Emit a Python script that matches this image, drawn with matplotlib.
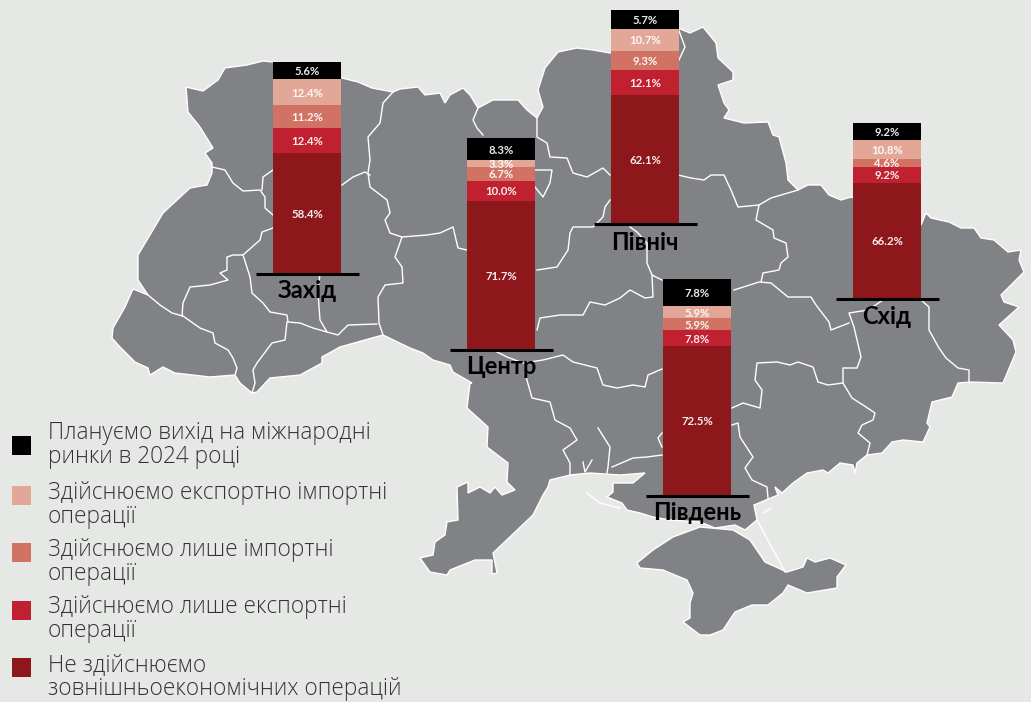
import matplotlib
matplotlib.use("Agg")
import matplotlib.pyplot as plt
from matplotlib.patches import Polygon, Rectangle

# ---------- data ----------
regions = ["Захід", "Центр", "Північ", "Південь", "Схід"]
no_trade = [58.4, 71.7, 62.1, 72.5, 66.2]
export_only = [12.4, 10.0, 12.1, 7.8, 9.2]
import_only = [11.2, 6.7, 9.3, 5.9, 4.6]
export_import = [12.4, 3.3, 10.7, 5.9, 10.8]
planned = [5.6, 8.3, 5.7, 7.8, 9.2]
legend_labels = [
    "Плануємо вихід на міжнародні\nринки в 2024 році",
    "Здійснюємо експортно імпортні\nоперації",
    "Здійснюємо лише імпортні\nоперації",
    "Здійснюємо лише експортні\nоперації",
    "Не здійснюємо\nзовнішньоекономічних операцій",
]

# ---------- layout / style ----------
BG = "#E6E8E6"; MAP = "#808285"
COL = {"no": "#8E171B", "exp": "#C02030", "imp": "#D17264", "both": "#E2A797", "plan": "#000000"}
bar_x = [307, 501, 645, 697, 887]
bar_base = [273, 349, 223, 495, 298]
bar_scale = [2.05, 2.06, 2.06, 2.05, 1.74]
black_pad = [6, 5, 7, 11, 1]
label_y = [291, 367, 243, 513, 316]

# decorative base map, traced in image pixels
outline = [(186,87),(203,91),(218,80),(225,68),(247,65),(263,61),(273,62),(342,78),(358,82),(372,88),(393,92),(400,89),(418,87),(425,95),(440,93),(445,103),(450,95),(463,88),(470,95),(478,108),(493,100),(518,100),(527,110),(537,118),(543,107),(538,90),(545,68),(558,52),(577,48),(593,50),(610,53),(640,35),(678,28),(690,33),(703,27),(716,43),(718,58),(733,72),(733,80),(718,85),(724,103),(729,110),(724,118),(744,123),(768,122),(773,135),(779,137),(786,163),(788,180),(798,190),(808,185),(821,185),(829,195),(841,200),(851,197),(880,205),(921,225),(926,213),(931,218),(949,222),(961,228),(974,228),(981,238),(994,240),(1008,252),(1021,250),(1019,260),(1024,272),(1001,295),(1004,302),(1019,307),(999,325),(1013,340),(1016,352),(1003,383),(970,382),(958,383),(952,397),(932,402),(927,423),(930,427),(923,442),(903,440),(892,442),(882,453),(867,455),(857,463),(855,473),(853,465),(840,463),(828,473),(823,470),(807,473),(793,483),(782,493),(775,487),(778,495),(754,505),(757,520),(745,530),(735,525),(715,528),(700,522),(670,520),(653,517),(640,513),(627,510),(622,503),(607,497),(613,492),(613,483),(633,483),(645,473),(620,475),(590,473),(570,475),(550,480),(548,487),(543,495),(533,515),(493,553),(497,573),(492,574),(492,560),(475,560),(450,570),(447,575),(430,572),(420,558),(433,555),(435,542),(445,535),(447,522),(458,520),(457,487),(468,482),(468,493),(480,487),(490,493),(495,487),(502,495),(515,490),(507,482),(508,463),(487,447),(488,427),(467,408),(470,383),(472,383),(453,372),(450,365),(433,360),(423,353),(410,348),(383,335),(372,338),(340,347),(322,357),(322,363),(300,375),(270,378),(257,392),(252,393),(240,383),(235,375),(210,377),(175,373),(163,367),(150,375),(148,368),(135,362),(120,347),(112,338),(113,328),(125,307),(133,289),(148,295),(138,280),(138,255),(163,213),(190,188),(207,185),(212,173),(212,163),(205,153),(213,148),(200,127),(188,112)]
crimea = [(637,563),(653,550),(673,537),(700,527),(733,530),(750,540),(765,562),(787,572),(803,567),(807,558),(815,562),(830,558),(846,565),(837,577),(837,588),(807,593),(788,585),(783,593),(768,605),(752,605),(735,612),(723,630),(710,635),(700,635),(683,622),(690,618),(690,603),(693,593),(687,580),(663,570),(640,568)]
borders = [
 [(393,92),(383,103),(380,123),(368,137),(370,160),(368,173),(370,187),(387,200),(390,213),(385,220),(390,233),(402,237),(427,235),(440,233),(453,227),(458,248),(467,250)],
 [(212,167),(225,170),(233,183),(243,191),(260,190),(265,197),(265,208),(273,215)],
 [(262,190),(263,177),(273,170)],
 [(342,185),(353,177),(365,172),(370,175)],
 [(273,228),(262,232),(260,240),(243,255),(233,255),(227,257),(227,270),(220,273),(228,280),(210,285),(190,287),(183,303),(182,316)],
 [(243,255),(250,277),(252,293),(263,303),(270,312),(287,315),(288,322),(300,323),(313,328),(327,332),(338,335),(348,325),(377,324)],
 [(148,295),(160,305),(172,313),(183,316),(200,328),(213,333),(215,343),(228,350),(233,358),(237,368),(235,375)],
 [(287,322),(285,340),(272,343),(257,363),(253,370),(255,383),(252,393)],
 [(320,273),(318,293),(320,320),(327,332)],
 [(402,237),(395,257),(402,267),(403,283),(385,285),(378,297),(379,323),(383,335)],
 [(478,108),(473,120),(477,128),(483,135)],
 [(535,170),(552,170),(550,183),(543,197),(535,187)],
 [(537,118),(537,137),(547,143),(550,157),(567,158),(573,173),(587,177),(603,168),(610,175)],
 [(678,175),(691,178),(704,180),(711,175),(724,175),(731,190),(738,207),(759,205),(771,198),(798,190)],
 [(678,28),(685,47),(678,62)],
 [(610,200),(605,207),(603,217),(593,227),(573,227),(570,233),(568,250),(557,267),(537,270)],
 [(630,227),(637,232),(647,243),(647,263),(652,275),(662,280)],
 [(652,275),(653,297),(645,298),(630,290),(620,298),(605,305),(590,302),(583,315),(560,315),(540,318),(537,330)],
 [(497,352),(507,357),(523,363),(543,360),(563,355),(573,362),(597,368),(603,385),(617,388),(633,385),(645,387),(648,375),(662,369)],
 [(525,373),(532,398),(550,402),(555,420),(570,428),(577,440),(563,450),(570,463),(570,475)],
 [(598,428),(610,447),(608,467),(607,473)],
 [(612,467),(633,458),(647,457),(662,455)],
 [(662,447),(658,438),(662,433)],
 [(583,462),(585,472),(592,460)],
 [(732,408),(743,403),(760,408),(762,390),(755,380),(757,363),(777,362),(790,365),(798,362),(813,367),(818,382),(828,385),(843,383),(852,398),(863,405),(875,413),(873,420),(862,425),(858,433),(870,443),(867,455)],
 [(732,425),(738,423),(740,437),(753,457),(745,468),(752,480),(767,487),(768,498)],
 [(843,383),(843,368),(857,368),(861,357),(854,327),(849,313),(868,310),(883,300)],
 [(849,323),(831,330),(829,322),(816,305),(811,297),(788,297),(771,283),(759,282),(734,290)],
 [(759,205),(756,220),(773,230),(774,238),(786,243),(788,257),(781,263),(779,270),(763,273),(761,282)],
 [(921,300),(929,307),(929,330),(939,348),(946,358),(958,368),(969,370),(969,383)],
 [(587,493),(600,503),(620,508)],
 [(757,520),(785,572)],
 [(763,513),(771,508)],
]

fig = plt.figure(figsize=(10.31, 7.02), dpi=100, facecolor=BG)
ax = fig.add_axes([0, 0, 1, 1])
ax.set_xlim(0, 1031); ax.set_ylim(702, 0); ax.axis("off")

for poly in (outline, crimea):
    ax.add_patch(Polygon(poly, closed=True, fc=MAP, ec="white", lw=1.0, zorder=1))
for b in borders:
    xs, ys = zip(*b)
    ax.plot(xs, ys, color="white", lw=1.0, zorder=2, solid_joinstyle="round")

series = [(no_trade, COL["no"]), (export_only, COL["exp"]), (import_only, COL["imp"]),
          (export_import, COL["both"]), (planned, COL["plan"])]
TEXT_FONT = ["Lato", "Noto Sans", "DejaVu Sans"]
for i, reg in enumerate(regions):
    cur = bar_base[i]
    for vals, c in series:
        h = vals[i] * bar_scale[i] + (black_pad[i] if vals is planned else 0)
        ax.bar(bar_x[i], -h, bottom=cur, width=68, color=c, lw=0, zorder=3)
        ax.text(bar_x[i], cur - h / 2, f"{vals[i]:.1f}%", color="white", ha="center", va="center_baseline",
                fontsize=8.2, family=TEXT_FONT, fontweight="bold", zorder=4, alpha=.92)
        cur -= h
    ax.plot([bar_x[i] - 51.5, bar_x[i] + 51.5], [bar_base[i] + 1] * 2, color="black", lw=2.2, zorder=5,
            solid_capstyle="butt")
    ax.text(bar_x[i], label_y[i], reg, color="black", ha="center", va="center", fontsize=17,
            family=TEXT_FONT, fontweight="bold", zorder=6)

leg_cols = [COL["plan"], COL["both"], COL["imp"], COL["exp"], COL["no"]]
leg_y = [445, 495, 552, 610, 667]
text_y = [445, 505, 562, 619, 677]
for c, y, ty, lab in zip(leg_cols, leg_y, text_y, legend_labels):
    ax.add_patch(Rectangle((12, y - 9.5), 19, 19, fc=c, ec="none", zorder=3))
    ax.text(48, ty, lab, color="#333333", ha="left", va="center", fontsize=16.3, family="Open Sans",
            fontweight="light", linespacing=0.98, zorder=3)

fig.savefig("out.png", dpi=100, facecolor=BG)
